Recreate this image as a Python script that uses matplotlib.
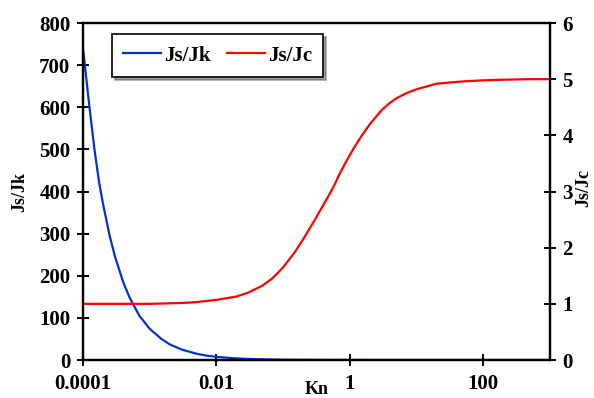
import matplotlib
matplotlib.use('Agg')
import matplotlib.pyplot as plt
from matplotlib.ticker import FixedLocator, FixedFormatter

plt.rcParams['font.family'] = ['Liberation Serif', 'DejaVu Serif']
plt.rcParams['font.weight'] = 'bold'

# Knudsen number grid
kn = [1e-4, 1.25e-4, 1.5e-4, 1.75e-4, 2e-4, 2.5e-4, 3e-4, 4e-4, 5e-4, 7e-4, 1e-3, 1.5e-3,
      2e-3, 3e-3, 5e-3, 7e-3, 0.01, 0.02, 0.03, 0.05, 0.07, 0.1, 0.15, 0.2, 0.3, 0.4, 0.5,
      0.6, 0.7, 0.85, 1, 1.2, 1.5, 2, 3, 4, 5, 7, 10, 20, 50, 100, 200, 500, 1000]

# Js/Jk (left axis)
js_jk = [740, 600, 495, 420, 370, 296, 247, 185, 148, 105, 74, 50,
         37, 25, 15, 10.5, 7.4, 3.7, 2.5, 1.5, 1.05, 0.74, 0.5, 0.37, 0.25, 0.19, 0.15,
         0.12, 0.1, 0.09, 0.07, 0.06, 0.05, 0.04, 0.03, 0.02, 0.02, 0.01, 0.01, 0.005, 0.002,
         0.001, 0.0005, 0.0002, 0.0001]

# Js/Jc (right axis)
js_jc = [1.0, 1.0, 1.0, 1.0, 1.0, 1.0, 1.0, 1.0, 1.0, 1.0, 1.0, 1.005,
         1.01, 1.015, 1.03, 1.05, 1.07, 1.13, 1.2, 1.33, 1.46, 1.65, 1.92, 2.15, 2.5, 2.76, 2.96,
         3.14, 3.31, 3.5, 3.65, 3.81, 3.99, 4.2, 4.45, 4.58, 4.66, 4.75, 4.82, 4.92, 4.96,
         4.98, 4.99, 5.0, 5.0]

xticks = [1e-4, 1e-2, 1, 100]
xtick_labels = ['0.0001', '0.01', '1', '100']

fig = plt.figure(figsize=(5.94, 3.98), dpi=100)
ax = fig.add_axes([83 / 594, 38 / 398, 467 / 594, 337 / 398])
ax2 = ax.twinx()

l1, = ax.plot(kn, js_jk, color='#0033cc', lw=1.6, label='Js/Jk')
l2, = ax2.plot(kn, js_jc, color='#ff0000', lw=1.6, label='Js/Jc')

ax.set_xscale('log')
ax.set_xlim(1e-4, 1000)
ax.set_ylim(0, 800)
ax2.set_ylim(0, 6)
ax.xaxis.set_major_locator(FixedLocator(xticks))
ax.xaxis.set_major_formatter(FixedFormatter(xtick_labels))
ax.xaxis.set_minor_locator(FixedLocator([]))
ax.set_yticks(range(0, 801, 100))
ax2.set_yticks(range(0, 7))

for a in (ax, ax2):
    for s in a.spines.values():
        s.set_linewidth(1.6)
    a.tick_params(direction='inout', length=8, width=1.4, labelsize=15)
ax.tick_params(axis='x', pad=6)
ax.tick_params(axis='y', pad=5)
ax2.tick_params(axis='y', pad=5)

ax.set_xlabel('Kn', fontsize=13, fontweight='bold')
ax.xaxis.set_label_coords(0.5, -0.062)
ax.set_ylabel('Js/Jk', fontsize=13, fontweight='bold')
ax.yaxis.set_label_coords(-0.117, 0.5)
ax2.set_ylabel('Js/Jc', fontsize=13, fontweight='bold', rotation=90)
ax2.yaxis.set_label_coords(1.054, 0.51)

leg = ax.legend(handles=[l1, l2], loc='upper left', bbox_to_anchor=(0.062, 0.967),
                borderaxespad=0, ncol=2, fontsize=15, frameon=True, fancybox=False,
                shadow=True, handlelength=1.8, handletextpad=0.15, columnspacing=0.8,
                borderpad=0.55)
leg.get_frame().set_edgecolor('black')
leg.get_frame().set_linewidth(1.2)

fig.savefig('out.png', dpi=100)
